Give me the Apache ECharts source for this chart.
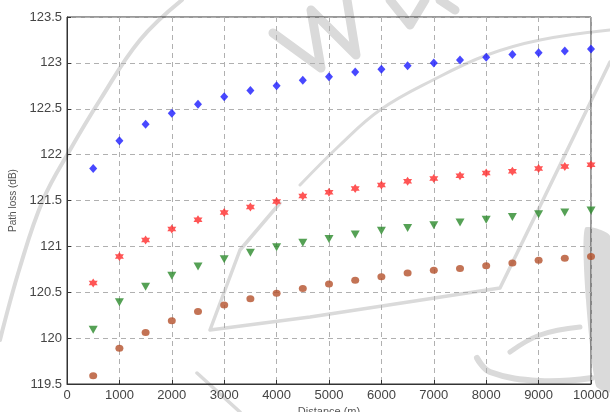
<!DOCTYPE html>
<html><head><meta charset="utf-8">
<script src="https://cdn.jsdelivr.net/npm/echarts@6/dist/echarts.min.js"></script>
<style>html,body{margin:0;padding:0;background:#fff}#c{width:610px;height:412px}</style>
</head><body><div id="c"></div>
<script>
const distances = [500,1000,1500,2000,2500,3000,3500,4000,4500,5000,5500,6000,6500,7000,7500,8000,8500,9000,9500,10000];
const blueDiamond = [121.85,122.15,122.33,122.45,122.55,122.63,122.70,122.75,122.81,122.85,122.90,122.93,122.97,123.00,123.03,123.06,123.09,123.11,123.13,123.15];
const redStar = [120.60,120.89,121.07,121.19,121.29,121.37,121.43,121.49,121.55,121.59,121.63,121.67,121.71,121.74,121.77,121.80,121.82,121.85,121.87,121.89];
const greenTriangle = [120.09,120.39,120.56,120.68,120.78,120.86,120.93,120.99,121.04,121.08,121.13,121.17,121.20,121.23,121.26,121.29,121.32,121.35,121.37,121.39];
const brownCircle = [119.59,119.89,120.06,120.19,120.29,120.36,120.43,120.49,120.54,120.59,120.63,120.67,120.71,120.74,120.76,120.79,120.82,120.85,120.87,120.89];
const xTicks = {min:0, max:10000, interval:1000};
const yTicks = {min:119.5, max:123.5, interval:0.5};

const pair = arr => distances.map((d,i)=>[d,arr[i]]);
const star = 'path://M0,-10 L2.9,-5 L8.66,-5 L5.8,0 L8.66,5 L2.9,5 L0,10 L-2.9,5 L-8.66,5 L-5.8,0 L-8.66,-5 L-2.9,-5 Z';
const font = 'Liberation Sans, Arial, sans-serif';
const labelStyle = {color:'#444', fontSize:13, fontFamily:font};
const WM = '#dadada';

// faint background watermark strokes (decoration only)
const line = (pts, w, smooth) => ({type:'polyline', z:0, silent:true, shape:{points:pts, smooth:smooth||0},
  style:{stroke:WM, lineWidth:w, fill:null, lineCap:'round', lineJoin:'round'}});
const watermark = [
  line([[0,340],[20,267],[43,200],[70,150],[100,100],[140,40],[182,0]], 4, 0.4),
  line([[273,33],[321,68],[311,10],[356,55],[347,0]], 9),
  line([[390,0],[410,25],[425,0]], 9),
  line([[440,0],[455,10]], 9),
  line([[300,185],[340,145],[380,110],[433,80],[487,55],[540,40],[610,30]], 3, 0.4),
  line([[280,203],[240,250],[210,330],[310,317],[500,288],[543,200],[610,62]], 3.5),
  line([[197,373],[240,412]], 3.5),
  line([[510,352],[540,335],[580,327]], 5, 0.4),
  line([[477,358],[490,372],[540,381],[592,378]], 6, 0.4),
  {type:'polygon', z:0, silent:true, shape:{points:[[585,228],[610,236],[610,392],[596,386],[586,300]], smooth:0.2},
    style:{fill:WM}}
];

const chart = echarts.init(document.getElementById('c'));
chart.setOption({
  animation:false,
  graphic:watermark,
  grid:{left:67, right:19, top:17, bottom:28, show:true, borderColor:'#333', borderWidth:1, z:1,
    containLabel:false, outerBoundsMode:'none'},
  xAxis:{type:'value', z:2, min:xTicks.min, max:xTicks.max, interval:xTicks.interval,
    name:'Distance (m)', nameLocation:'middle', nameGap:18,
    nameTextStyle:{color:'#555', fontSize:11, fontFamily:font},
    axisLine:{lineStyle:{color:'#333'}}, axisTick:{inside:true, length:4, lineStyle:{color:'#333'}},
    axisLabel:Object.assign({margin:5, showMaxLabel:true, formatter:v=>String(v)}, labelStyle),
    splitLine:{show:true, lineStyle:{type:[5,4], color:'#b0b0b0'}}},
  yAxis:{type:'value', z:2, min:yTicks.min, max:yTicks.max, interval:yTicks.interval,
    name:'Path loss (dB)', nameLocation:'middle', nameGap:45, nameRotate:90,
    nameTextStyle:{color:'#555', fontSize:10, fontFamily:font},
    axisLine:{show:true, lineStyle:{color:'#333'}}, axisTick:{show:true, inside:true, length:4, lineStyle:{color:'#333'}},
    axisLabel:Object.assign({margin:5, formatter:v=>String(+v.toFixed(1))}, labelStyle),
    splitLine:{show:true, lineStyle:{type:[5,4], color:'#b0b0b0'}}},
  series:[
    {type:'scatter', z:3, data:pair(blueDiamond), symbol:'diamond', symbolSize:[8,9], itemStyle:{color:'#1a1aff'}},
    {type:'scatter', z:3, data:pair(redStar), symbol:star, symbolSize:[9,9], itemStyle:{color:'#ff2b2b'}},
    {type:'scatter', z:3, data:pair(greenTriangle), symbol:'triangle', symbolRotate:180, symbolSize:[9,8], itemStyle:{color:'#2a8a2a'}},
    {type:'scatter', z:3, data:pair(brownCircle), symbol:'circle', symbolSize:[8,7], itemStyle:{color:'#b4502a'}}
  ]
});
</script></body></html>
